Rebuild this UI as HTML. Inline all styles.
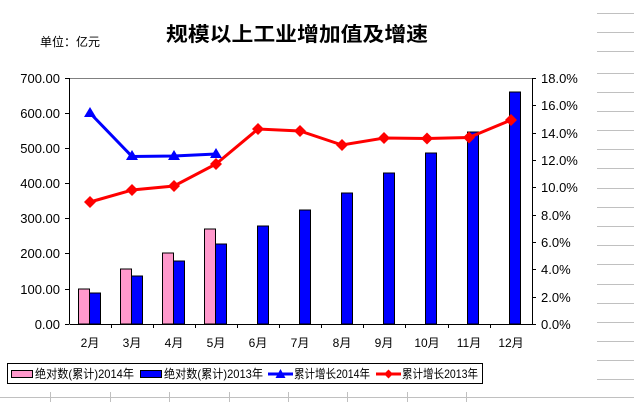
<!DOCTYPE html>
<html><head><meta charset="utf-8"><style>
body{margin:0;background:#fff;}
svg text{font-family:"Liberation Sans","Noto Sans CJK SC",sans-serif;}
</style></head><body>
<svg width="634" height="402" viewBox="0 0 634 402" xmlns="http://www.w3.org/2000/svg">
<g stroke="#c0c0c0" stroke-width="1">
<line x1="597" y1="13.5" x2="634" y2="13.5"/><line x1="597" y1="32.5" x2="634" y2="32.5"/><line x1="597" y1="51.5" x2="634" y2="51.5"/>
<line x1="597" y1="73.5" x2="634" y2="73.5"/><line x1="597" y1="92.5" x2="634" y2="92.5"/><line x1="597" y1="111.5" x2="634" y2="111.5"/>
<line x1="597" y1="130.5" x2="634" y2="130.5"/><line x1="597" y1="149.5" x2="634" y2="149.5"/><line x1="597" y1="168.5" x2="634" y2="168.5"/>
<line x1="597" y1="188.5" x2="634" y2="188.5"/><line x1="597" y1="207.5" x2="634" y2="207.5"/><line x1="597" y1="226.5" x2="634" y2="226.5"/>
<line x1="597" y1="245.5" x2="634" y2="245.5"/><line x1="597" y1="264.5" x2="634" y2="264.5"/><line x1="597" y1="284.5" x2="634" y2="284.5"/>
<line x1="597" y1="303.5" x2="634" y2="303.5"/><line x1="597" y1="322.5" x2="634" y2="322.5"/><line x1="597" y1="341.5" x2="634" y2="341.5"/>
<line x1="597" y1="360.5" x2="634" y2="360.5"/><line x1="597" y1="379.5" x2="634" y2="379.5"/>
<line x1="0" y1="397.5" x2="634" y2="397.5"/>
<line x1="50.5" y1="392" x2="50.5" y2="402"/><line x1="110.5" y1="392" x2="110.5" y2="402"/><line x1="169.5" y1="392" x2="169.5" y2="402"/>
<line x1="229.5" y1="392" x2="229.5" y2="402"/><line x1="288.5" y1="392" x2="288.5" y2="402"/><line x1="347.5" y1="392" x2="347.5" y2="402"/>
<line x1="407.5" y1="392" x2="407.5" y2="402"/><line x1="466.5" y1="392" x2="466.5" y2="402"/>
</g>
<text x="297" y="41" font-size="20" font-weight="bold" text-anchor="middle" textLength="262" lengthAdjust="spacingAndGlyphs">规模以上工业增加值及增速</text>
<text x="40" y="46" font-size="12">单位：亿元</text>
<line x1="69.5" y1="78.5" x2="532.5" y2="78.5" stroke="#808080"/>
<g stroke="#000" stroke-width="1">
<line x1="69.5" y1="78" x2="69.5" y2="324"/>
<line x1="532.5" y1="78" x2="532.5" y2="324"/>
<line x1="69.5" y1="324.5" x2="532.5" y2="324.5"/>
<path d="M65 78.5h4M65 113.5h4M65 148.5h4M65 183.5h4M65 218.5h4M65 253.5h4M65 289.5h4M65 324.5h4"/>
<path d="M532 78.5h4M532 105.5h4M532 133.5h4M532 160.5h4M532 187.5h4M532 215.5h4M532 242.5h4M532 269.5h4M532 297.5h4M532 324.5h4"/>
<path d="M111.5 324v4M153.5 324v4M195.5 324v4M237.5 324v4M279.5 324v4M321.5 324v4M363.5 324v4M405.5 324v4M448.5 324v4M490.5 324v4"/>
</g>
<g font-size="13" text-anchor="end" fill="#000">
<text x="60" y="83">700.00</text><text x="60" y="118">600.00</text><text x="60" y="153">500.00</text><text x="60" y="188">400.00</text>
<text x="60" y="223">300.00</text><text x="60" y="258">200.00</text><text x="60" y="294">100.00</text><text x="60" y="329">0.00</text>
</g>
<g font-size="13" fill="#000">
<text x="541" y="83">18.0%</text><text x="541" y="110">16.0%</text><text x="541" y="138">14.0%</text><text x="541" y="165">12.0%</text>
<text x="541" y="192">10.0%</text><text x="541" y="220">8.0%</text><text x="541" y="247">6.0%</text><text x="541" y="274">4.0%</text>
<text x="541" y="302">2.0%</text><text x="541" y="329">0.0%</text>
</g>
<g font-size="12" text-anchor="middle">
<text x="90" y="347">2月</text><text x="132" y="347">3月</text><text x="174" y="347">4月</text><text x="216" y="347">5月</text>
<text x="258" y="347">6月</text><text x="300" y="347">7月</text><text x="342" y="347">8月</text><text x="384" y="347">9月</text>
<text x="427" y="347">10月</text><text x="469" y="347">11月</text><text x="511" y="347">12月</text>
</g>
<g stroke="#000" stroke-width="1">
<g fill="#ff99cc">
<rect x="78.5" y="289" width="11" height="35"/>
<rect x="120.5" y="269" width="11" height="55"/>
<rect x="162.5" y="253" width="11" height="71"/>
<rect x="204.5" y="229" width="11" height="95"/>
</g>
<g fill="#0000ff">
<rect x="89.5" y="293" width="11" height="31"/>
<rect x="131.5" y="276" width="11" height="48"/>
<rect x="173.5" y="261" width="11" height="63"/>
<rect x="215.5" y="244" width="11" height="80"/>
<rect x="257.5" y="226" width="11" height="98"/>
<rect x="299.5" y="210" width="11" height="114"/>
<rect x="341.5" y="193" width="11" height="131"/>
<rect x="383.5" y="173" width="11" height="151"/>
<rect x="425.5" y="153" width="11" height="171"/>
<rect x="467.5" y="132" width="11" height="192"/>
<rect x="509.5" y="92" width="11" height="232"/>
</g>
</g>
<polyline points="90,202 132,190 174,186 216,164 258,129 300,131 342,145 384,138 427,138.5 469,137.5 511,120" fill="none" stroke="#ff0000" stroke-width="3"/>
<g fill="#ff0000">
<path d="M90 196l6 6-6 6-6-6z"/><path d="M132 184l6 6-6 6-6-6z"/><path d="M174 180l6 6-6 6-6-6z"/><path d="M216 158l6 6-6 6-6-6z"/>
<path d="M258 123l6 6-6 6-6-6z"/><path d="M300 125l6 6-6 6-6-6z"/><path d="M342 139l6 6-6 6-6-6z"/><path d="M384 132l6 6-6 6-6-6z"/>
<path d="M427 132.5l6 6-6 6-6-6z"/><path d="M469 131.5l6 6-6 6-6-6z"/><path d="M511 114l6 6-6 6-6-6z"/>
</g>
<polyline points="90,113 132,156.5 174,156 216,154" fill="none" stroke="#0000ff" stroke-width="3"/>
<g fill="#0000ff">
<path d="M90 107l6 10h-12z"/><path d="M132 150l6 10h-12z"/><path d="M174 150l6 10h-12z"/><path d="M216 148l6 10h-12z"/>
</g>
<rect x="7.5" y="363.5" width="475" height="20" fill="#fff" stroke="#000"/>
<g font-size="12">
<rect x="11.5" y="370.5" width="21" height="7" fill="#ff99cc" stroke="#000"/>
<text x="35" y="378" textLength="99" lengthAdjust="spacingAndGlyphs">绝对数(累计)2014年</text>
<rect x="140.5" y="370.5" width="21" height="7" fill="#0000ff" stroke="#000"/>
<text x="164" y="378" textLength="99" lengthAdjust="spacingAndGlyphs">绝对数(累计)2013年</text>
<line x1="268" y1="374" x2="293" y2="374" stroke="#0000ff" stroke-width="3"/>
<path d="M280.5 369l5 9h-10z" fill="#0000ff"/>
<text x="294" y="378" textLength="76" lengthAdjust="spacingAndGlyphs">累计增长2014年</text>
<line x1="376" y1="374" x2="401" y2="374" stroke="#ff0000" stroke-width="3"/>
<path d="M388.5 369.5l4.5 4.5-4.5 4.5-4.5-4.5z" fill="#ff0000"/>
<text x="402" y="378" textLength="76" lengthAdjust="spacingAndGlyphs">累计增长2013年</text>
</g>
</svg>
</body></html>
